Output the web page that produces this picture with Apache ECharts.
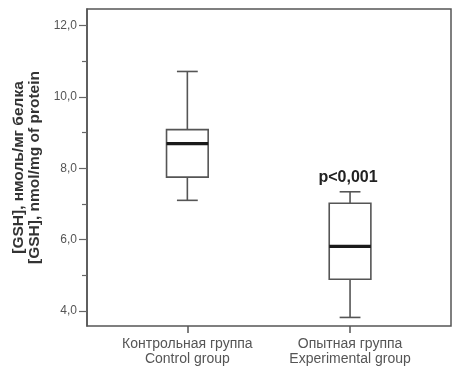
<!DOCTYPE html>
<html>
<head>
<meta charset="utf-8">
<script src="https://cdn.jsdelivr.net/npm/echarts@6/dist/echarts.min.js"></script>
<style>
  html, body { margin: 0; padding: 0; background: #fff; }
  #chart { width: 454px; height: 375px; }
</style>
</head>
<body>
<div id="chart"></div>
<script>
  // groups and their box statistics: [low, q1, median, q3, high]
  var groups = ['Контрольная группа\nControl group', 'Опытная группа\nExperimental group'];
  var lowWhisker = [7.10, 3.82];
  var quartile1 = [7.75, 4.89];
  var medians = [8.69, 5.81];
  var quartile3 = [9.08, 7.02];
  var highWhisker = [10.71, 7.34];
  var notes = ['', 'p<0,001'];

  var majorTicks = [4, 6, 8, 10, 12];
  var minorTicks = [5, 7, 9, 11];

  var yMin = 3.58, yMax = 12.46;
  var lineColor = '#555';
  var fontFamily = 'Liberation Sans, Arial, sans-serif';

  var boxData = groups.map(function (g, i) {
    return [i, lowWhisker[i], quartile1[i], medians[i], quartile3[i], highWhisker[i], notes[i]];
  });

  function renderBox(params, api) {
    var idx = api.value(0);
    var band = api.size([1, 0])[0];
    var bw = band * 0.256;
    var cw = bw / 2;
    var low = api.coord([idx, api.value(1)]);
    var q1 = api.coord([idx, api.value(2)]);
    var med = api.coord([idx, api.value(3)]);
    var q3 = api.coord([idx, api.value(4)]);
    var high = api.coord([idx, api.value(5)]);
    var cx = low[0];
    var st = { stroke: lineColor, lineWidth: 1.6, fill: null };
    var children = [
      { type: 'line', shape: { x1: cx, y1: high[1], x2: cx, y2: q3[1] }, style: st },
      { type: 'line', shape: { x1: cx, y1: q1[1], x2: cx, y2: low[1] }, style: st },
      { type: 'line', shape: { x1: cx - cw / 2, y1: high[1], x2: cx + cw / 2, y2: high[1] }, style: st },
      { type: 'line', shape: { x1: cx - cw / 2, y1: low[1], x2: cx + cw / 2, y2: low[1] }, style: st },
      { type: 'rect', shape: { x: cx - bw / 2, y: q3[1], width: bw, height: q1[1] - q3[1] },
        style: { stroke: lineColor, lineWidth: 1.6, fill: '#fff' } },
      { type: 'line', shape: { x1: cx - bw / 2, y1: med[1], x2: cx + bw / 2, y2: med[1] },
        style: { stroke: '#1a1a1a', lineWidth: 3.2 } }
    ];
    var note = api.value(6);
    if (note) {
      children.push({
        type: 'text',
        style: {
          text: note, x: cx - 2, y: high[1] - 6,
          align: 'center', verticalAlign: 'bottom',
          font: 'bold 16px ' + fontFamily, fill: '#222'
        }
      });
    }
    return { type: 'group', children: children };
  }

  var chart = echarts.init(document.getElementById('chart'));

  chart.setOption({
    animation: false,
    grid: [
      { left: 87, top: 9, width: 364, height: 317, show: true,
        borderColor: lineColor, borderWidth: 1.5, backgroundColor: '#fff' },
      { left: 106, top: 9, width: 325.4, height: 317 }
    ],
    xAxis: [
      { gridIndex: 0, type: 'value', show: false, min: 0, max: 1 },
      {
        gridIndex: 1, type: 'category', data: groups,
        axisLine: { show: false },
        axisTick: { show: true, alignWithLabel: true, length: 7,
          lineStyle: { color: lineColor, width: 1.5 } },
        axisLabel: { interval: 0, hideOverlap: false, margin: 11, color: '#555',
          fontSize: 14, lineHeight: 15, fontFamily: fontFamily }
      }
    ],
    yAxis: [
      {
        gridIndex: 0, type: 'value', position: 'left', min: yMin, max: yMax,
        splitLine: { show: false },
        axisLine: { show: true, lineStyle: { color: lineColor, width: 1.5 } },
        axisTick: { show: true, length: 8, customValues: majorTicks,
          lineStyle: { color: '#666', width: 1.2 } },
        axisLabel: { customValues: majorTicks, margin: 10, color: '#555', fontSize: 12,
          fontFamily: fontFamily,
          formatter: function (v) { return v.toFixed(1).replace('.', ','); } },
        name: '[GSH], нмоль/мг белка\n[GSH], nmol/mg of protein',
        nameLocation: 'middle', nameGap: 44,
        nameTextStyle: { fontWeight: 'bold', fontSize: 15.5, color: '#333',
          lineHeight: 16, fontFamily: fontFamily }
      },
      {
        gridIndex: 0, type: 'value', position: 'left', offset: 0, min: yMin, max: yMax,
        splitLine: { show: false },
        axisLine: { show: false },
        axisTick: { show: true, length: 5, customValues: minorTicks,
          lineStyle: { color: '#666', width: 1.2 } },
        axisLabel: { show: false }
      },
      { gridIndex: 1, type: 'value', min: yMin, max: yMax, show: false }
    ],
    series: [{
      type: 'custom',
      xAxisIndex: 1, yAxisIndex: 2,
      data: boxData,
      encode: { x: 0, y: [1, 2, 3, 4, 5] },
      renderItem: renderBox
    }]
  });
</script>
</body>
</html>
